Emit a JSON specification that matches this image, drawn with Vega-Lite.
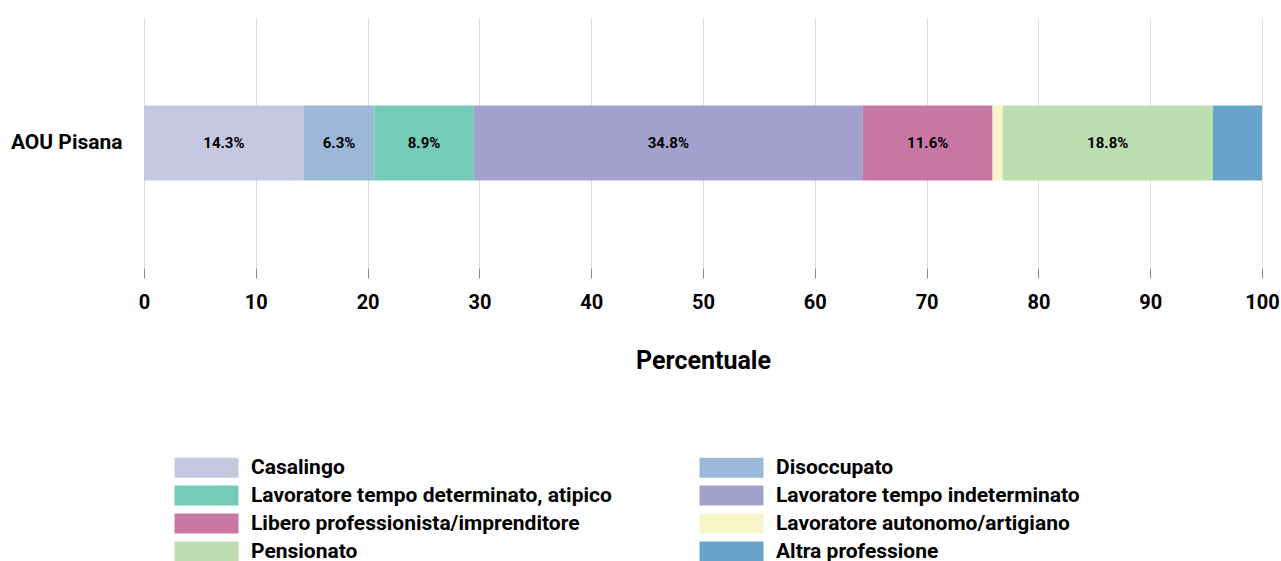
{
  "$schema": "https://vega.github.io/schema/vega-lite/v6.json",
  "width": 1118,
  "height": 250,
  "autosize": {"type": "none"},
  "padding": {"left": 144, "top": 18, "right": 19, "bottom": 293},
  "background": "white",
  "config": {
    "view": {"stroke": null},
    "font": "Roboto"
  },
  "data": {
    "values": [
      {"site": "AOU Pisana", "cat": "Casalingo", "ord": 1, "value": 14.3},
      {"site": "AOU Pisana", "cat": "Disoccupato", "ord": 2, "value": 6.3},
      {"site": "AOU Pisana", "cat": "Lavoratore tempo determinato, atipico", "ord": 3, "value": 8.9},
      {"site": "AOU Pisana", "cat": "Lavoratore tempo indeterminato", "ord": 4, "value": 34.8},
      {"site": "AOU Pisana", "cat": "Libero professionista/imprenditore", "ord": 5, "value": 11.6},
      {"site": "AOU Pisana", "cat": "Lavoratore autonomo/artigiano", "ord": 6, "value": 0.9},
      {"site": "AOU Pisana", "cat": "Pensionato", "ord": 7, "value": 18.8},
      {"site": "AOU Pisana", "cat": "Altra professione", "ord": 8, "value": 4.4}
    ]
  },
  "transform": [
    {"stack": "value", "groupby": ["site"], "sort": [{"field": "ord"}], "as": ["v0", "v1"]},
    {"calculate": "(datum.v0 + datum.v1) / 2", "as": "mid"},
    {"calculate": "format(datum.value, '.1f') + '%'", "as": "label"}
  ],
  "encoding": {
    "y": {
      "field": "site",
      "type": "nominal",
      "axis": {
        "title": null,
        "ticks": false,
        "domain": false,
        "labelFontSize": 21,
        "labelFontWeight": "bold",
        "labelColor": "#000",
        "labelPadding": 22
      }
    }
  },
  "layer": [
    {
      "mark": {"type": "bar", "height": 75},
      "encoding": {
        "x": {
          "field": "v0",
          "type": "quantitative",
          "scale": {"domain": [0, 100], "nice": false},
          "axis": {
            "title": "Percentuale",
            "titleFontSize": 25,
            "titleFontWeight": "bold",
            "titleColor": "#000",
            "titlePadding": 36,
            "values": [0, 10, 20, 30, 40, 50, 60, 70, 80, 90, 100],
            "domain": false,
            "grid": true,
            "gridColor": "#dddddd",
            "tickColor": "#888888",
            "tickSize": 10,
            "labelFontSize": 20,
            "labelFontWeight": "bold",
            "labelColor": "#000",
            "labelPadding": 14,
            "labelFlush": false
          }
        },
        "x2": {"field": "v1"},
        "color": {
          "field": "cat",
          "type": "nominal",
          "scale": {
            "domain": [
              "Casalingo",
              "Lavoratore tempo determinato, atipico",
              "Libero professionista/imprenditore",
              "Pensionato",
              "Disoccupato",
              "Lavoratore tempo indeterminato",
              "Lavoratore autonomo/artigiano",
              "Altra professione"
            ],
            "range": ["#c5c8e0", "#74cbb8", "#c877a5", "#bddeb0", "#9bb8d8", "#a4a1cf", "#f8f6c8", "#67a4c9"]
          },
          "legend": {
            "title": null,
            "orient": "none",
            "legendX": 30,
            "legendY": 439,
            "columns": 2,
            "columnPadding": 87,
            "rowPadding": 6,
            "symbolType": "M-3.2,-1H3.2V1H-3.2Z",
            "symbolSize": 400,
            "symbolOffset": 22,
            "symbolStrokeWidth": 0,
            "symbolOpacity": 1,
            "labelFontSize": 21,
            "labelFontWeight": "bold",
            "labelColor": "#000",
            "labelOffset": 34,
            "labelLimit": 600
          }
        }
      }
    },
    {
      "transform": [{"filter": "datum.value > 5"}],
      "mark": {"type": "text", "fontSize": 15, "fontWeight": "bold", "color": "#000"},
      "encoding": {
        "x": {"field": "mid", "type": "quantitative"},
        "text": {"field": "label"}
      }
    }
  ]
}
